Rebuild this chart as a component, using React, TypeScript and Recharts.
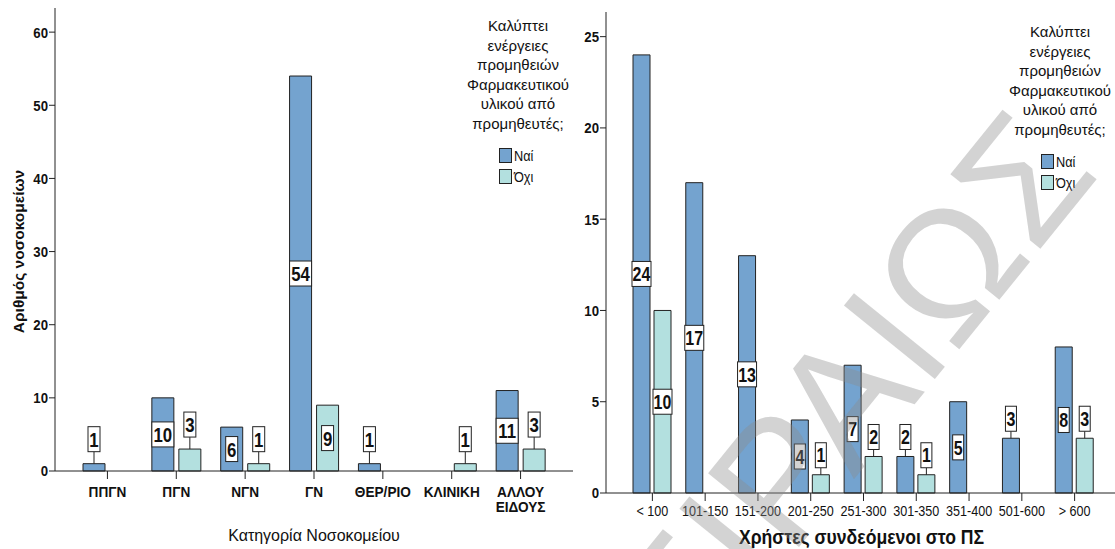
import { BarChart, Bar, XAxis, YAxis, Legend, Label } from 'recharts';

// Hospital category chart
const hospitalTypes = ['ΠΠΓΝ', 'ΠΓΝ', 'ΝΓΝ', 'ΓΝ', 'ΘΕΡ/ΡΙΟ', 'ΚΛΙΝΙΚΗ', 'ΑΛΛΟΥ ΕΙΔΟΥΣ'];
const hospitalYes = [1, 10, 6, 54, 1, null, 11];
const hospitalNo = [null, 3, 1, 9, null, 1, 3];
const hospitalTicks = [0, 10, 20, 30, 40, 50, 60];

// Connected users chart
const userRanges = ['< 100', '101-150', '151-200', '201-250', '251-300', '301-350', '351-400', '501-600', '> 600'];
const usersYes = [24, 17, 13, 4, 7, 2, 5, 3, 8];
const usersNo = [10, null, null, 1, 2, 1, null, null, 3];
const userTicks = [0, 5, 10, 15, 20, 25];

const legendTitle = ['Καλύπτει', 'ενέργειες', 'προμηθειών', 'Φαρμακευτικού', 'υλικού από', 'προμηθευτές;'];
const seriesNames = ['Ναί', 'Όχι'];

const YES = '#74a3cf';
const NO = '#b3e0df';
const INK = '#222';
const SANS = "'Liberation Sans', Arial, Helvetica, sans-serif";

const hospitalData = hospitalTypes.map((name, i) => ({ name, yes: hospitalYes[i], no: hospitalNo[i] }));
const userData = userRanges.map((name, i) => ({ name, yes: usersYes[i], no: usersNo[i] }));

// no condensed face installed, so glyphs are scaled horizontally instead
const NarrowText = ({ x, y, anchor = 'middle', size, bold, sx = 0.8, children, dy = '0.36em' }: any) => (
  <text
    transform={`translate(${x} ${y}) scale(${sx} 1)`}
    textAnchor={anchor}
    dy={dy}
    fontFamily={SANS}
    fontSize={size}
    fontWeight={bold ? 'bold' : 'normal'}
    fill="#111"
  >
    {children}
  </text>
);

// value box: centred in tall bars, above short ones with a leader line
const valueTag = (boxH: number, lift: number, fontSize: number, w1: number, w2: number) => (props: any) => {
  const { x, y, width, height, value } = props;
  if (value == null) return null;
  const txt = String(value);
  const w = txt.length > 1 ? w2 : w1;
  const cx = x + width / 2;
  const inside = value >= 4;
  const cy = inside ? y + height / 2 : y - lift - boxH / 2;
  return (
    <g>
      {!inside && <line x1={cx} x2={cx} y1={y} y2={y - lift} stroke={INK} strokeWidth={1} />}
      <rect x={cx - w / 2} y={cy - boxH / 2} width={w} height={boxH} fill="#fff" stroke={INK} strokeWidth={1} />
      <NarrowText x={cx} y={cy} size={fontSize} bold>
        {txt}
      </NarrowText>
    </g>
  );
};

const LegendBox = ({ top }: { top: number }) => (
  <div style={{ fontFamily: SANS, fontSize: 15, color: '#111', textAlign: 'center', lineHeight: '19.5px', paddingTop: top }}>
    {legendTitle.map((t) => (
      <div key={t}>{t}</div>
    ))}
    <div style={{ display: 'inline-block', textAlign: 'left', marginTop: 12 }}>
      {seriesNames.map((n, i) => (
        <div key={n} style={{ display: 'flex', alignItems: 'center', height: 21, fontFamily: SANS, fontSize: 15 }}>
          <span style={{ width: 13, height: 15, background: i === 0 ? YES : NO, border: `1px solid ${INK}`, marginRight: 2, boxSizing: 'border-box' }} />
          <span style={{ display: 'inline-block', transform: 'scaleX(0.85)', transformOrigin: 'left center' }}>{n}</span>
        </div>
      ))}
    </div>
  </div>
);

const HospitalTick = (props: any) => {
  const { x, y, payload } = props;
  const words = String(payload.value).split(' ');
  return (
    <g>
      {words.map((w, i) => (
        <NarrowText key={w} x={x} y={y + 10 + i * 15} size={15.5} sx={0.88} bold>
          {w}
        </NarrowText>
      ))}
    </g>
  );
};

const UsersTick = (props: any) => {
  const { x, y, payload } = props;
  return (
    <NarrowText x={x} y={y + 8} size={14} sx={0.9}>
      {payload.value}
    </NarrowText>
  );
};

const CountTick = (props: any) => {
  const { x, y, payload } = props;
  return (
    <NarrowText x={x} y={y} anchor="end" size={15} sx={0.88} bold>
      {payload.value}
    </NarrowText>
  );
};

const axisTitle = (text: string, dy: number, size: number, bold: boolean, sx: number) => (p: any) => {
  const vb = p.viewBox;
  return (
    <NarrowText x={vb.x + vb.width / 2} y={vb.y + dy} size={size} bold={bold} sx={sx}>
      {text}
    </NarrowText>
  );
};

const yTitle = (p: any) => {
  const vb = p.viewBox;
  const cx = 18;
  const cy = vb.y + vb.height / 2 + 12;
  return (
    <text x={cx} y={cy} transform={`rotate(-90 ${cx} ${cy})`} textAnchor="middle" dominantBaseline="central" fontFamily={SANS} fontSize={15.5} fontWeight="bold" fill="#111">
      Αριθμός νοσοκομείων
    </text>
  );
};

function HospitalChart() {
  return (
    <BarChart width={580} height={549} data={hospitalData} margin={{ top: 8, right: 7, bottom: 18, left: 0 }} barSize={22} barGap={5}>
      <XAxis dataKey="name" height={60} padding={{ left: 18, right: 18 }} tickSize={8} tick={<HospitalTick />} axisLine={{ stroke: INK }} tickLine={{ stroke: INK }} interval={0}>
        <Label content={axisTitle('Κατηγορία Νοσοκομείου', 64, 16, false, 1)} />
      </XAxis>
      <XAxis xAxisId="top" orientation="top" height={0} tick={false} tickLine={false} axisLine={{ stroke: '#444' }} />
      <YAxis width={55} domain={[0, 63.3]} ticks={hospitalTicks} tickSize={6} tickLine={{ stroke: INK }} axisLine={{ stroke: INK }} tick={<CountTick />} tickMargin={1}>
        <Label content={yTitle} />
      </YAxis>
      <YAxis yAxisId="right" orientation="right" width={0} tick={false} tickLine={false} axisLine={{ stroke: '#444' }} />
      <Legend layout="horizontal" verticalAlign="middle" align="center" wrapperStyle={{ position: 'absolute', top: 0, left: 463, width: 110 }} content={() => <LegendBox top={16} />} />
      <Bar dataKey="yes" name="Ναί" fill={YES} stroke={INK} strokeWidth={1} isAnimationActive={false} label={valueTag(25, 12, 21, 12, 22)} />
      <Bar dataKey="no" name="Όχι" fill={NO} stroke={INK} strokeWidth={1} isAnimationActive={false} label={valueTag(25, 12, 21, 12, 22)} />
    </BarChart>
  );
}

function UsersChart() {
  return (
    <BarChart width={542} height={549} data={userData} margin={{ top: 12, right: 0, bottom: 16, left: 0 }} barSize={17} barGap={4}>
      <XAxis dataKey="name" height={40} padding={{ left: 20, right: 16 }} tickSize={8} interval={0} axisLine={{ stroke: INK }} tickLine={{ stroke: INK }} tick={<UsersTick />}>
        <Label content={axisTitle('Χρήστες συνδεόμενοι στο ΠΣ', 44, 20, true, 0.88)} />
      </XAxis>
      <XAxis xAxisId="top" orientation="top" height={0} tick={false} tickLine={false} axisLine={{ stroke: '#444' }} />
      <YAxis width={31} domain={[0, 26.35]} ticks={userTicks} tickSize={6} tickLine={{ stroke: INK }} axisLine={{ stroke: INK }} tick={<CountTick />} tickMargin={1} />
      <Legend layout="horizontal" verticalAlign="middle" align="center" wrapperStyle={{ position: 'absolute', top: 0, left: 430, width: 110 }} content={() => <LegendBox top={22} />} />
      <Bar dataKey="yes" name="Ναί" fill={YES} stroke={INK} strokeWidth={1} isAnimationActive={false} label={valueTag(25, 7, 20, 11, 19)} />
      <Bar dataKey="no" name="Όχι" fill={NO} stroke={INK} strokeWidth={1} isAnimationActive={false} label={valueTag(25, 7, 20, 11, 19)} />
    </BarChart>
  );
}

export default function App() {
  return (
    <div style={{ position: 'fixed', left: 0, top: 0, width: 1115, height: 549, background: '#fff', overflow: 'hidden' }}>
      <div style={{ position: 'absolute', left: 0, top: 0 }}>
        <HospitalChart />
      </div>
      <div style={{ position: 'absolute', left: 575, top: 0 }}>
        <UsersChart />
      </div>
      {/* faint diagonal watermark over the right panel */}
      <svg width={1115} height={549} style={{ position: 'absolute', left: 0, top: 0, pointerEvents: 'none' }}>
        <text x={612} y={778} transform="rotate(-51 612 778)" fontFamily={SANS} fontSize={170} fill="#8c8c8c" fillOpacity={0.38}>
          ΠΕΙΡΑΙΩΣ
        </text>
      </svg>
    </div>
  );
}
